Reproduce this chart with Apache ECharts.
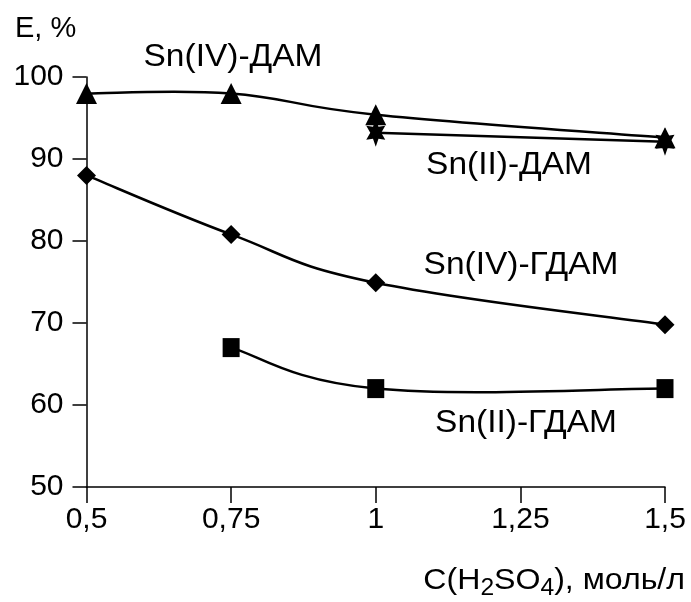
<!DOCTYPE html>
<html>
<head>
<meta charset="utf-8">
<script src="https://cdn.jsdelivr.net/npm/echarts@6/dist/echarts.min.js"></script>
<style>
  html, body { margin: 0; padding: 0; background: #fff; }
  #chart { width: 691px; height: 602px; }
</style>
</head>
<body>
<div id="chart"></div>
<script>
// Acid concentration, mol/L
var concentration = [0.5, 0.75, 1, 1.25, 1.5];

// Extraction degree E, %
var snIV_DAM  = [[0.5, 98], [0.75, 98], [1, 95.4], [1.5, 92.6]];
var snII_DAM  = [[1, 93.2], [1.5, 92.1]];
var snIV_GDAM = [[0.5, 88], [0.75, 80.8], [1, 74.9], [1.5, 69.8]];
var snII_GDAM = [[0.75, 67], [1, 62], [1.5, 62]];

var yTicks = [50, 60, 70, 80, 90, 100];

var FONT = 'Liberation Sans, Arial, sans-serif';
var TENSION = 0.2;

// six-pointed filled star used as a marker
function starPath(points, inner) {
  var d = '';
  for (var i = 0; i < points * 2; i++) {
    var r = i % 2 === 0 ? 1 : inner;
    var a = Math.PI * i / points - Math.PI / 2;
    d += (i === 0 ? 'M' : 'L') + (r * Math.cos(a)).toFixed(3) + ' ' + (r * Math.sin(a)).toFixed(3) + ' ';
  }
  return 'path://' + d + 'Z';
}

// Each data item draws the cubic segment to the next point (cardinal spline through the points)
function splineRenderer(points) {
  return function (params, api) {
    var i = params.dataIndex;
    if (i >= points.length - 1) return null;
    var at = function (k) {
      k = Math.max(0, Math.min(points.length - 1, k));
      return api.coord(points[k]);
    };
    var p0 = at(i - 1), p1 = at(i), p2 = at(i + 1), p3 = at(i + 2);
    return {
      type: 'bezierCurve',
      shape: {
        x1: p1[0], y1: p1[1], x2: p2[0], y2: p2[1],
        cpx1: p1[0] + (p2[0] - p0[0]) * TENSION,
        cpy1: p1[1] + (p2[1] - p0[1]) * TENSION,
        cpx2: p2[0] - (p3[0] - p1[0]) * TENSION,
        cpy2: p2[1] - (p3[1] - p1[1]) * TENSION
      },
      style: { stroke: '#000', lineWidth: 2.5, fill: null }
    };
  };
}

function curve(name, points) {
  return {
    name: name, type: 'custom', data: points,
    encode: { x: 0, y: 1 }, renderItem: splineRenderer(points), z: 2, silent: true
  };
}

function markers(name, points, symbol, size) {
  return {
    name: name, type: 'scatter', data: points, symbol: symbol, symbolSize: size,
    itemStyle: { color: '#000', opacity: 1 }, z: 3, silent: true
  };
}

var chart = echarts.init(document.getElementById('chart'));

chart.setOption({
  animation: false,
  backgroundColor: '#fff',
  grid: { left: 86.5, right: 26, top: 77, bottom: 115, containLabel: false },
  xAxis: {
    type: 'value',
    min: concentration[0],
    max: concentration[concentration.length - 1],
    interval: 0.25,
    axisLine: { show: true, lineStyle: { color: '#000', width: 1.5 } },
    axisTick: { show: true, inside: false, length: 16, lineStyle: { color: '#000', width: 1.5 } },
    splitLine: { show: false },
    axisLabel: {
      color: '#000', fontFamily: FONT, fontSize: 30, margin: 18,
      formatter: function (v) { return String(v).replace('.', ','); }
    }
  },
  yAxis: {
    type: 'value',
    min: yTicks[0],
    max: yTicks[yTicks.length - 1],
    interval: 10,
    axisLine: { show: true, lineStyle: { color: '#000', width: 1.5 } },
    axisTick: { show: true, inside: false, length: 14, lineStyle: { color: '#000', width: 1.5 } },
    splitLine: { show: false },
    axisLabel: { color: '#000', fontFamily: FONT, fontSize: 30, margin: 23 }
  },
  series: [
    curve('Sn(IV)-ДАМ', snIV_DAM),
    curve('Sn(II)-ДАМ', snII_DAM),
    curve('Sn(IV)-ГДАМ', snIV_GDAM),
    curve('Sn(II)-ГДАМ', snII_GDAM),
    markers('Sn(IV)-ДАМ', snIV_DAM, 'triangle', [21, 21]),
    markers('Sn(II)-ДАМ', snII_DAM, starPath(6, 0.5), [19, 28]),
    markers('Sn(IV)-ГДАМ', snIV_GDAM, 'diamond', [19, 19]),
    markers('Sn(II)-ГДАМ', snII_GDAM, 'rect', [17, 19])
  ],
  graphic: [
    { type: 'text', left: 15, top: 14,
      style: { text: 'E, %', fill: '#000', font: '29px ' + FONT } },
    { type: 'text', x: 233, y: 57, scaleX: 1.08,
      style: { text: 'Sn(IV)-ДАМ', fill: '#000', font: '31px ' + FONT, align: 'center', verticalAlign: 'middle' } },
    { type: 'text', x: 509, y: 165, scaleX: 1.08,
      style: { text: 'Sn(II)-ДАМ', fill: '#000', font: '31px ' + FONT, align: 'center', verticalAlign: 'middle' } },
    { type: 'text', x: 521, y: 265, scaleX: 1.08,
      style: { text: 'Sn(IV)-ГДАМ', fill: '#000', font: '31px ' + FONT, align: 'center', verticalAlign: 'middle' } },
    { type: 'text', x: 526, y: 423, scaleX: 1.08,
      style: { text: 'Sn(II)-ГДАМ', fill: '#000', font: '31px ' + FONT, align: 'center', verticalAlign: 'middle' } },
    { type: 'text', x: 685, y: 566, scaleX: 1.07,
      style: {
        text: '{m|C(H}{s|2}{m|SO}{s|4}{m|), моль/л}',
        fill: '#000', align: 'right',
        rich: {
          m: { fontFamily: FONT, fontSize: 30, lineHeight: 34, verticalAlign: 'top', fill: '#000' },
          s: { fontFamily: FONT, fontSize: 23, lineHeight: 26, verticalAlign: 'bottom', padding: [14, 0, 0, 0], fill: '#000' }
        }
      } }
  ]
});
</script>
</body>
</html>
